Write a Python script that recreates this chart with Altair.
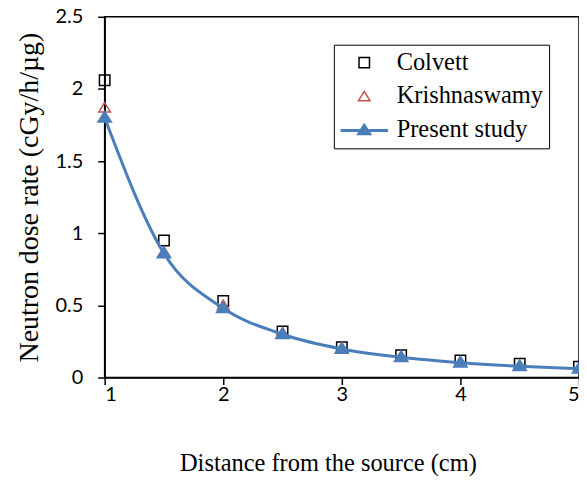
import altair as alt
import pandas as pd

distance = [1.0, 1.5, 2.0, 2.5, 3.0, 3.5, 4.0, 4.5, 5.0]
colvett = [2.06, 0.95, 0.53, 0.32, 0.21, 0.155, 0.118, 0.095, 0.075]
krishnaswamy = [1.87, 0.87, 0.50, 0.31, 0.205, 0.145, 0.108, 0.082, 0.065]
present = [1.80, 0.86, 0.48, 0.30, 0.198, 0.14, 0.103, 0.078, 0.06]

series_names = ["Colvett", "Krishnaswamy", "Present study"]
x_ticks = [1, 2, 3, 4, 5]
y_ticks = [0, 0.5, 1, 1.5, 2, 2.5]

BLUE = "#4A7EBB"
RED = "#C0504D"

SQ = "M-0.223,-0.223H0.223V0.223H-0.223Z"
TRI_OPEN = "M0,-0.22L0.245,0.18L-0.245,0.18Z"
TRI_FILL = "M0,-0.27L0.287,0.18L-0.287,0.18Z"
LINE_TRI = "M-0.98,-0.032H0.98V0.032H-0.98Z M0,-0.27L0.287,0.18L-0.287,0.18Z"

ref_df = pd.DataFrame(
    {"d": distance * 2,
     "v": colvett + krishnaswamy,
     "series": ["Colvett"] * len(distance) + ["Krishnaswamy"] * len(distance)}
)
pres_df = pd.DataFrame({"d": distance, "v": present})

xenc = alt.X("d:Q", scale=alt.Scale(domain=[1, 5], nice=False, zero=False),
             axis=alt.Axis(values=x_ticks, format="d", title="Distance from the source (cm)",
                           titleFontSize=24.5, titleX=224, titleAlign="center"))
yenc = alt.Y("v:Q", scale=alt.Scale(domain=[0, 2.5], nice=False),
             axis=alt.Axis(values=y_ticks, format="~g", title="Neutron dose rate (cGy/h/µg)",
                           titleFontSize=28))

legend = alt.Legend(
    title=None, orient="none", legendX=230, legendY=28,
    padding=6, strokeColor="black", fillColor="white",
    symbolStrokeWidth=1.5, symbolSize=2209, clipHeight=24, rowPadding=9,
    labelFont="Liberation Serif", labelFontSize=24.5, labelColor="black", labelOffset=8,
)

points = alt.Chart(ref_df).mark_point(filled=False, size=2209, strokeWidth=1.5, opacity=1).encode(
    x=xenc, y=yenc,
    shape=alt.Shape("series:N", scale=alt.Scale(domain=series_names, range=[SQ, TRI_OPEN, LINE_TRI]), legend=legend),
    stroke=alt.Stroke("series:N", scale=alt.Scale(domain=series_names, range=["black", RED, BLUE]), legend=legend),
    fill=alt.Fill("series:N", scale=alt.Scale(domain=series_names, range=["transparent", "transparent", BLUE]), legend=legend),
)

line = alt.Chart(pres_df).mark_line(interpolate="monotone", color=BLUE, strokeWidth=3).encode(x=xenc, y=yenc)

tri = alt.Chart(pres_df).mark_point(shape=TRI_FILL, size=2209, filled=True, color=BLUE, strokeWidth=1.5,
                                    stroke=BLUE, opacity=1).encode(x=xenc, y=yenc)

chart = alt.layer(points, line, tri).properties(
    width=476, height=362,
    autosize=alt.AutoSizeParams(type="none"),
    padding={"left": 97, "top": 8, "right": 0, "bottom": 98},
).configure_view(stroke="black", strokeWidth=1.5).configure_axis(
    grid=False, domainColor="black", domainWidth=1.5, tickColor="black", tickWidth=1.5, tickSize=7,
    labelFont="Lato", labelFontSize=20, labelColor="black",
    titleFont="Liberation Serif", titleFontWeight="normal", titleColor="black",
).configure_axisX(labelPadding=0, titlePadding=47).configure_axisY(labelPadding=15, titlePadding=11)

chart.save("out.html", embed_options={"renderer": "svg", "actions": False})
